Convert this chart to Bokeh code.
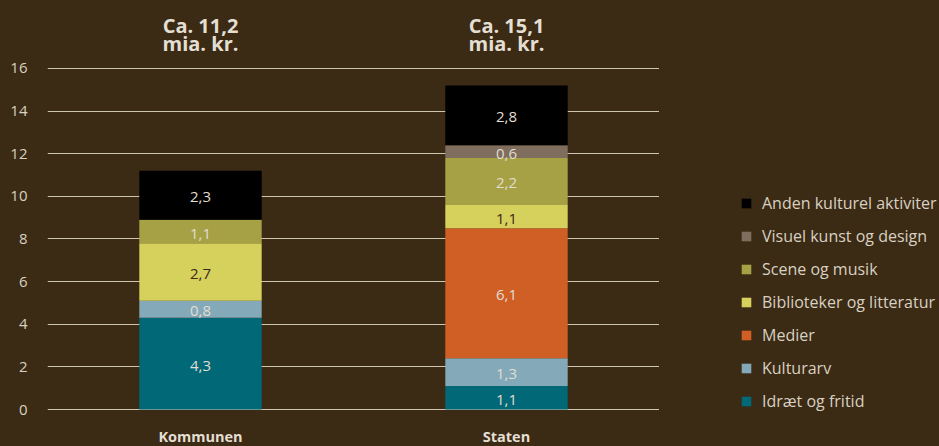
import re
from bokeh.plotting import figure
from bokeh.models import Range1d, FactorRange, FixedTicker, Legend, LegendItem, ColumnDataSource
from bokeh.layouts import row
from bokeh.embed import file_html
from bokeh.resources import INLINE
from bokeh.core.properties import value
import numpy as np

# ---- data ----
groups = ["Kommunen", "Staten"]
series = ["Idræt og fritid", "Kulturarv", "Medier", "Biblioteker og litteratur",
          "Scene og musik", "Visuel kunst og design", "Anden kulturel aktiviter"]
kommunen = [4.3, 0.8, 0.0, 2.7, 1.1, 0.0, 2.3]
staten = [1.1, 1.3, 6.1, 1.1, 2.2, 0.6, 2.8]
colors = ["#006876", "#84a9b8", "#cf5f24", "#d6d05c", "#a7a145", "#7f6e5d", "#000000"]
dark_label = [False, False, False, True, False, False, False]
titles_line1 = ["Ca. 11,2", "Ca. 15,1"]
titles_line2 = ["mia. kr.", "mia. kr."]
y_ticks = [0, 2, 4, 6, 8, 10, 12, 14, 16]

BG = "#3b2a14"
LIGHT = "#d8d1c2"
TITLE = "#e4dfd3"
GRID = "#cfc6b2"
FONT = "Open Sans"

values_by_group = [kommunen, staten]
src = ColumnDataSource({"group": groups, **{s: [vals[i] for vals in values_by_group] for i, s in enumerate(series)}})

p = figure(width=659, height=446, output_backend="svg", toolbar_location=None,
           x_range=FactorRange(*groups), y_range=Range1d(-1.736, 19.19),
           x_axis_location=None, styles={"background-color": BG})
p.min_border_left = 47
p.min_border_right = 0
p.min_border_top = 0
p.min_border_bottom = 0
p.background_fill_color = BG
p.border_fill_color = BG
p.outline_line_color = None

# stacked bars
rs = p.vbar_stack(series, x="group", width=0.4, color=colors, line_color=None, source=src)

# segment labels
lx, ly, lt, lc = [], [], [], []
for g, vals in zip(groups, values_by_group):
    cum = np.cumsum(vals)
    for i, v in enumerate(vals):
        if v > 0:
            lx.append(g)
            ly.append(cum[i] - v / 2)
            lt.append(f"{v:.1f}".replace(".", ","))
            lc.append("#3b2a14" if dark_label[i] else "#e2ddd2")
p.text(x="x", y="y", text="text", text_color="color", source=ColumnDataSource(dict(x=lx, y=ly, text=lt, color=lc)),
       text_align="center", text_baseline="middle", text_font=value(FONT), text_font_size="15px", y_offset=2)

# totals above
p.text(x=groups, y=[18.02] * 2, text=titles_line1, text_align="center", text_baseline="alphabetic",
       text_font=value(FONT), text_font_size="20px", text_font_style="bold", text_color=TITLE)
p.text(x=groups, y=[17.18] * 2, text=titles_line2, text_align="center", text_baseline="alphabetic",
       text_font=value(FONT), text_font_size="20px", text_font_style="bold", text_color=TITLE)

# category labels
p.text(x=groups, y=[-1.69] * 2, text=groups, text_align="center", text_baseline="bottom",
       text_font=value(FONT), text_font_size="14.5px", text_font_style="bold", text_color=TITLE)

# axes / grid
p.yaxis.ticker = FixedTicker(ticks=y_ticks)
p.yaxis.axis_line_color = None
p.yaxis.major_tick_line_color = None
p.yaxis.minor_tick_line_color = None
p.yaxis.major_label_text_color = LIGHT
p.yaxis.major_label_text_font = FONT
p.yaxis.major_label_text_font_size = "15px"
p.yaxis.major_label_standoff = 14
p.xgrid.grid_line_color = None
p.ygrid.grid_line_color = GRID
p.ygrid.grid_line_width = 1

# legend panel (separate figure holding only the legend)
q = figure(width=280, height=446, output_backend="svg", toolbar_location=None,
           x_range=FactorRange(*groups), y_range=Range1d(0, 20),
           x_axis_location=None, y_axis_location=None, styles={"background-color": BG})
q.min_border_left = 0
q.min_border_right = 0
q.min_border_top = 0
q.min_border_bottom = 0
q.background_fill_color = BG
q.border_fill_color = BG
q.outline_line_color = None
q.grid.visible = False
rs2 = q.vbar_stack(series, x="group", width=0.4, color=colors, line_color=None, source=src)
for r in rs2:
    r.visible = False

items = [LegendItem(label=series[i], renderers=[rs2[i]]) for i in reversed(range(len(series)))]
legend = Legend(items=items, location=(81, 34))
legend.background_fill_alpha = 0
legend.border_line_color = None
legend.glyph_width = 12
legend.glyph_height = 12
legend.label_standoff = 10
legend.label_height = 20
legend.spacing = 11
legend.padding = 0
legend.margin = 0
legend.label_text_color = LIGHT
legend.label_text_font = FONT
legend.label_text_font_size = "16px"
q.add_layout(legend)

layout = row(p, q, styles={"background-color": BG})
html = file_html(layout, INLINE)
html = html.replace("</head>", "<style>html, body { background-color: %s !important; }</style></head>" % BG, 1)
open("out.html", "w").write(html)
